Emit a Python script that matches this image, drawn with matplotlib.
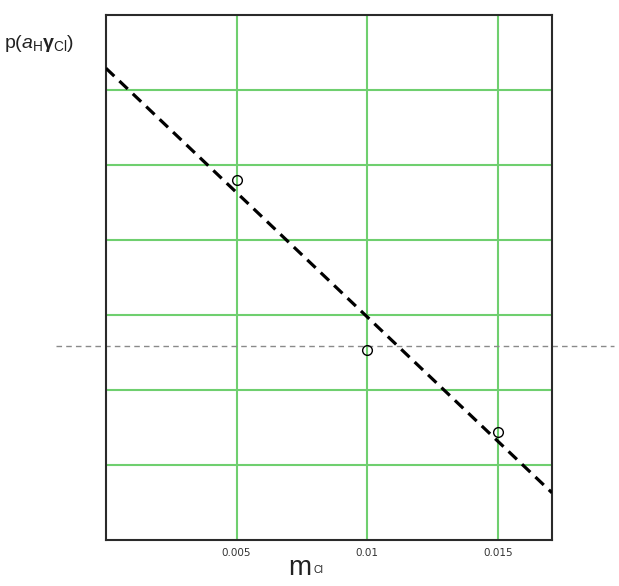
import matplotlib.pyplot as plt

plt.rcParams["mathtext.fontset"] = "custom"
plt.rcParams["mathtext.rm"] = "Liberation Sans"
plt.rcParams["mathtext.it"] = "Liberation Sans:italic"
plt.rcParams["mathtext.bf"] = "Liberation Sans:bold"

# measured points (m_Cl, p(aH*gCl)) - y in arbitrary units, no y ticks shown
m_cl = [0.005, 0.01, 0.015]
p_vals = [4.80, 2.53, 1.44]

# fitted dashed line endpoints
fit_x = [0.0, 0.01707]
fit_y = [6.29, 0.63]

# horizontal marker level
marker_y = 2.59

x_ticks = [0.005, 0.01, 0.015]
x_tick_labels = ["0.005", "0.01", "0.015"]
y_grid = [1, 2, 3, 4, 5, 6]

fig = plt.figure(figsize=(6.19, 5.86), dpi=100)
ax = fig.add_axes([0.1712, 0.0785, 0.7205, 0.8959])

ax.set_xlim(0.0, 0.01707)
ax.set_ylim(0, 7)

ax.set_xticks(x_ticks)
ax.set_xticklabels(x_tick_labels, fontsize=7.5, family="DejaVu Sans", color="#333333")
ax.set_yticks(y_grid)
ax.set_yticklabels([])
ax.tick_params(length=0, pad=6)
ax.grid(True, color="#6fcf6f", lw=1.5)
ax.set_axisbelow(True)

for s in ax.spines.values():
    s.set_color("#2a2a2a")
    s.set_linewidth(1.5)

ax.plot(fit_x, fit_y, color="black", lw=2.3, dashes=(3.6, 2.2), zorder=3)
ax.plot(m_cl, p_vals, linestyle="none", marker="o", markersize=7,
        markerfacecolor="none", markeredgecolor="black", markeredgewidth=1, zorder=4)

ax.plot([-0.112, 1.139], [marker_y, marker_y], transform=ax.get_yaxis_transform(),
        color="#8a8a8a", lw=1, dashes=(4, 3), clip_on=False, zorder=2)

# x axis label: m with small subscript Cl
fig.text(288 / 619, 11 / 586, "m", fontsize=20, family="Liberation Sans",
         ha="left", va="baseline", color="#222222")
fig.text(313 / 619, 13 / 586, "Cl", fontsize=7.5, family="Liberation Sans",
         ha="left", va="baseline", color="#222222")

# y axis label at top left
fig.text(0.006, 0.925, r"$\mathrm{p(}\mathit{a}_{\mathrm{H}}\mathbf{\gamma}_{\mathrm{Cl}}\mathrm{)}$",
         fontsize=14, ha="left", va="center", color="#222222")

fig.savefig("out.png", dpi=100, facecolor="white")
